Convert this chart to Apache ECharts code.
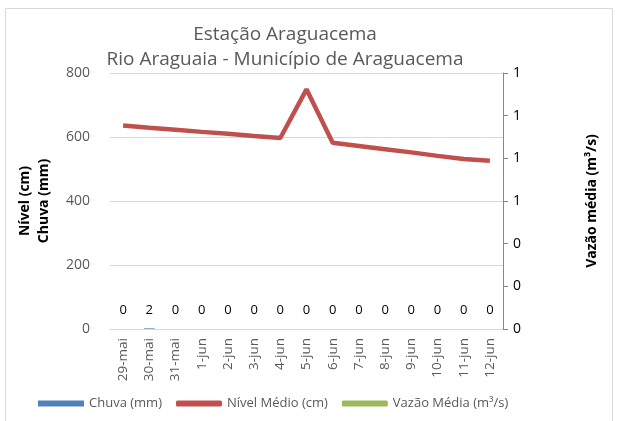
<!DOCTYPE html>
<html>
<head>
<meta charset="utf-8">
<script src="https://cdn.jsdelivr.net/npm/echarts@6/dist/echarts.min.js"></script>
<style>
  html, body { margin: 0; padding: 0; background: #fff; }
  #main { width: 620px; height: 421px; }
</style>
</head>
<body>
<div id="main"></div>
<script>
// dados
var dias = ['29-mai', '30-mai', '31-mai', '1-jun', '2-jun', '3-jun', '4-jun', '5-jun',
  '6-jun', '7-jun', '8-jun', '9-jun', '10-jun', '11-jun', '12-jun'];
var chuva = [0, 2, 0, 0, 0, 0, 0, 0, 0, 0, 0, 0, 0, 0, 0];
var nivel = [636, 629, 623, 616, 610, 603, 597, 749, 582, 572, 562, 552, 541, 531, 526];
var vazao = [null, null, null, null, null, null, null, null, null, null, null, null, null, null, null];

var fonte = '"Open Sans", "Liberation Sans", sans-serif';

var myChart = echarts.init(document.getElementById('main'));
myChart.setOption({
  animation: false,
  textStyle: { fontFamily: fonte },
  graphic: [{
    type: 'rect',
    shape: { x: 5.5, y: 8.5, width: 607, height: 420 },
    style: { fill: 'none', stroke: '#d9d9d9', lineWidth: 1 }
  }],
  title: {
    text: 'Estação Araguacema\nRio Araguaia - Município de Araguacema',
    left: 280,
    top: 17,
    textAlign: 'center',
    textStyle: { fontSize: 19, fontWeight: 'normal', color: '#595959', lineHeight: 25, fontFamily: fonte }
  },
  legend: {
    bottom: 6,
    left: 33,
    itemGap: 14,
    itemWidth: 46,
    itemHeight: 6,
    textStyle: { fontSize: 13, color: '#595959', fontFamily: fonte },
    data: [
      { name: 'Chuva (mm)', icon: 'rect' },
      { name: 'Nível Médio (cm)', icon: 'roundRect' },
      { name: 'Vazão Média (m³/s)', icon: 'roundRect' }
    ]
  },
  grid: { left: 110, right: 117, top: 73, bottom: 92, containLabel: false, outerBoundsMode: 'none' },
  xAxis: {
    type: 'category',
    data: dias,
    boundaryGap: true,
    axisLine: { lineStyle: { color: '#d9d9d9' } },
    axisTick: { show: false },
    axisLabel: { rotate: 90, fontSize: 13.5, color: '#595959', margin: 9, interval: 0 }
  },
  yAxis: [{
    type: 'value',
    min: 0, max: 800, interval: 200,
    name: 'Nível (cm)\nChuva (mm)',
    nameLocation: 'middle',
    nameRotate: 90,
    nameGap: 56,
    nameTextStyle: { fontSize: 14, fontWeight: 'bold', color: '#000', lineHeight: 19 },
    axisLine: { show: false },
    axisTick: { show: false },
    axisLabel: { fontSize: 14, color: '#595959', margin: 20 },
    splitLine: { lineStyle: { color: '#d9d9d9', width: 1 } }
  }, {
    type: 'value',
    min: 0, max: 1.2, interval: 0.2,
    position: 'right',
    name: 'Vazão média (m³/s)',
    nameLocation: 'middle',
    nameRotate: 90,
    nameGap: 82,
    nameTextStyle: { fontSize: 14, fontWeight: 'bold', color: '#000' },
    axisLine: { show: true, lineStyle: { color: '#868686' } },
    axisTick: { show: true, length: 5, lineStyle: { color: '#868686' } },
    axisLabel: {
      fontSize: 14, color: '#000', margin: 10,
      formatter: function (v) { return Math.round(v); }
    },
    splitLine: { show: false }
  }],
  series: [{
    name: 'Chuva (mm)',
    type: 'bar',
    data: chuva,
    yAxisIndex: 0,
    barWidth: '40%',
    itemStyle: { color: '#4f81bd' },
    label: { show: true, position: 'top', distance: 12, fontSize: 13, color: '#000' }
  }, {
    name: 'Nível Médio (cm)',
    type: 'line',
    data: nivel,
    yAxisIndex: 0,
    symbol: 'none',
    lineStyle: { color: '#c0504d', width: 4.5 },
    itemStyle: { color: '#c0504d' }
  }, {
    name: 'Vazão Média (m³/s)',
    type: 'line',
    data: vazao,
    yAxisIndex: 1,
    symbol: 'none',
    lineStyle: { color: '#9bbb59', width: 4.5 },
    itemStyle: { color: '#9bbb59' }
  }]
});
</script>
</body>
</html>
